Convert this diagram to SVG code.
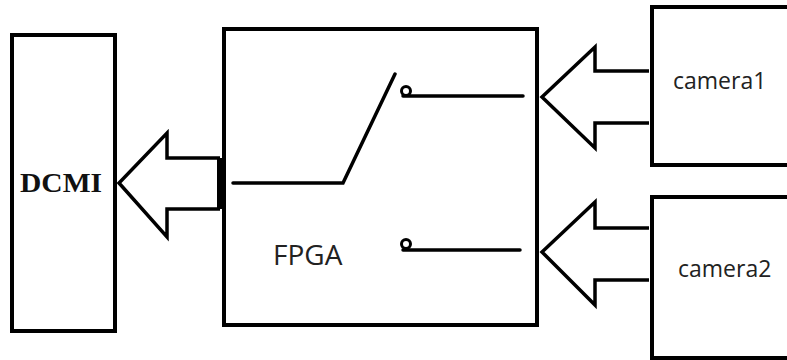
<svg xmlns="http://www.w3.org/2000/svg" width="787" height="360" viewBox="0 0 787 360">
<style>
.box{fill:#fff;stroke:#000;stroke-width:4}
.ln{fill:none;stroke:#000;stroke-width:3.5;stroke-linecap:round;stroke-linejoin:miter}
.arr{fill:#fff;stroke:#000;stroke-width:3.5;stroke-linejoin:miter}
.sans{font-family:"Open Sans","Noto Sans",sans-serif;fill:#222}
</style>
<rect width="787" height="360" fill="#fff"/>
<g id="dcmi">
<rect class="box" x="12" y="35" width="103" height="296"/>
<text x="61" y="192" text-anchor="middle" font-family="Liberation Serif,serif" font-weight="bold" font-size="28" textLength="82" lengthAdjust="spacingAndGlyphs" fill="#111">DCMI</text>
</g>
<g id="fpga">
<rect class="box" x="224" y="29" width="313" height="296"/>
<text class="sans" x="273" y="265" font-size="28">FPGA</text>
<path class="ln" d="M233 183 H343 L395 74"/>
<circle cx="406" cy="91" r="4.5" fill="none" stroke="#000" stroke-width="3"/>
<path class="ln" d="M403 96 H523"/>
<circle cx="406" cy="244" r="4.5" fill="none" stroke="#000" stroke-width="3"/>
<path class="ln" d="M403 250 H520"/>
</g>
<g id="camera1">
<rect class="box" x="652" y="7" width="145" height="158"/>
<text class="sans" x="673" y="89" font-size="23">camera1</text>
</g>
<g id="camera2">
<rect class="box" x="652" y="197" width="145" height="161"/>
<text class="sans" x="678" y="277" font-size="23">camera2</text>
</g>
<g id="connectors">
<path class="arr" d="M220 158 H167 V133 L119 183 L167 237 V209 H220"/>
<rect x="217" y="158" width="5" height="51" fill="#000"/>
<path class="arr" d="M649 71 H595 V47 L542 97 L595 148 V123 H649"/>
<path class="arr" d="M649 228 H595 V202 L542 252 L595 305 V280 H649"/>
</g>
</svg>
